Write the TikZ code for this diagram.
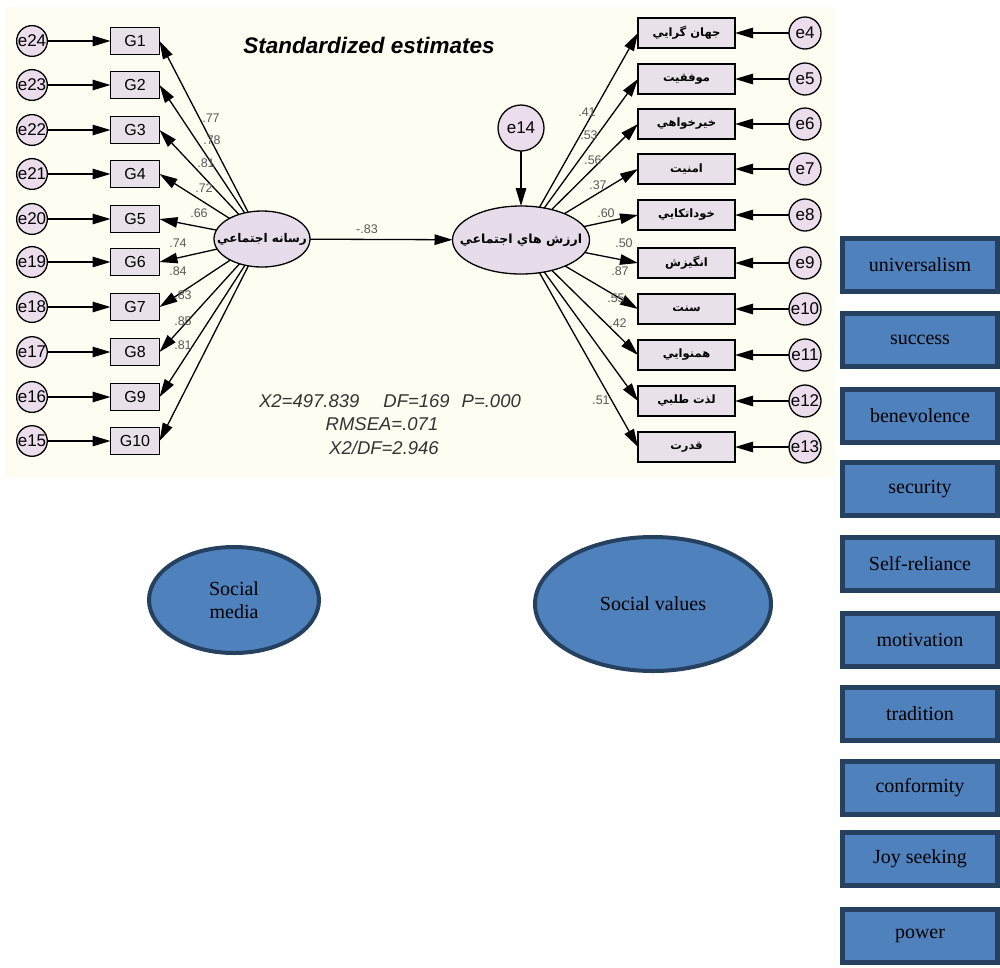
\documentclass[tikz,border=0pt]{standalone}
\usepackage{fontspec}
\setmainfont{Liberation Serif}
\newfontfamily\amossans{Liberation Sans}
\newfontfamily\arabicfont[Script=Arabic]{DejaVu Sans}
\TeXXeTstate=1
\usetikzlibrary{arrows.meta,shapes.geometric}

\definecolor{bgcream}{HTML}{FDFDF1}
\definecolor{boxfill}{HTML}{E9E1EA}
\definecolor{errfill}{HTML}{EBDDEC}
\definecolor{latfill}{HTML}{E7DDEA}
\definecolor{coefgray}{HTML}{5A5A5A}
\definecolor{bluefill}{HTML}{4F81BD}
\definecolor{bluedark}{HTML}{26405F}

\newcommand{\fa}[1]{\arabicfont\beginR #1\endR}

\begin{document}
\begin{tikzpicture}[x=1pt,y=-1pt,
  every node/.style={inner sep=0pt,outer sep=0pt},
  obs/.style={draw,line width=1.3pt,fill=boxfill,minimum width=49pt,minimum height=27pt,
    font=\amossans\fontsize{16}{16}\selectfont},
  obsr/.style={obs,minimum width=97pt,minimum height=30pt,
    font=\arabicfont\bfseries\fontsize{11.5}{11.5}\selectfont},
  errl/.style={circle,draw,line width=1.3pt,fill=errfill,minimum size=29pt,
    font=\amossans\fontsize{17}{17}\selectfont},
  errr/.style={errl,minimum size=32pt},
  lat/.style={ellipse,draw,line width=1.3pt,fill=latfill},
  latname/.style={font=\arabicfont\bfseries\fontsize{#1}{#1}\selectfont},
  loadarrow/.style={line width=1.3pt,-{Triangle[length=18pt,width=10.5pt]}},
  coef/.style={text=coefgray,font=\amossans\fontsize{12.5}{12.5}\selectfont},
  fitstat/.style={text=black!80,font=\amossans\itshape\fontsize{18.5}{18.5}\selectfont},
  valuebox/.style={draw=bluedark,line width=5pt,fill=bluefill,minimum width=155pt,
    minimum height=53pt,font=\fontsize{20}{20}\selectfont},
  conceptell/.style={ellipse,draw=bluedark,line width=4pt,fill=bluefill,
    align=center,font=\fontsize{20}{23}\selectfont}]

\useasboundingbox (0,0) rectangle (1000,967);
\fill[bgcream] (5,7) rectangle (836,477);

% title
\node[font=\amossans\bfseries\itshape\fontsize{22.5}{22.5}\selectfont] (title) at (369,45) {Standardized estimates};

% latent variables (names set on top so they may run past the outline)
\node[lat,minimum width=96pt,minimum height=56pt] (llat) at (262,239) {};
\node[latname=12] (llatname) at (llat.center) {\fa{رسانه اجتماعي}};
\node[lat,minimum width=137pt,minimum height=68pt] (rlat) at (521,240) {};
\node[latname=12.5] (rlatname) at (rlat.center) {\fa{ارزش هاي اجتماعي}};
\node[errl,minimum size=46pt] (e14) at (521,128) {e14};
\draw[loadarrow] (e14) -- (rlat);

% structural path
\draw[loadarrow] (llat) -- (rlat) node[coef,pos=0.4,above=6pt] (b83) {-.83};

% social media indicators G1..G10
\foreach \i/\y/\e in {1/41/24,2/85/23,3/130/22,4/174/21,5/219/20,6/262/19,7/307/18,8/352/17,9/397/16,10/441/15}{
  \node[obs] (g\i) at (135,\y) {G\i};
  \node[errl] (el\i) at (32,\y) {e\e};
  \draw[loadarrow] (el\i) -- (g\i);
  \draw[loadarrow] (llat) -- (g\i.east);
}

% social values indicators
\foreach \i/\y/\t/\e in {1/33/جهان گرايي/4,2/79/موفقيت/5,3/124/خيرخواهي/6,4/169/امنيت/7,
    5/215/خوداتكايي/8,6/263/انگيزش/9,7/309/سنت/10,8/355/همنوايي/11,9/401/لذت طلبي/12,10/447/قدرت/13}{
  \node[obsr] (v\i) at (686.5,\y) {\fa{\t}};
  \node[errr] (er\i) at (805,\y) {e\e};
  \draw[loadarrow] (er\i) -- (v\i);
  \draw[loadarrow] (rlat) -- (v\i.west);
}

% standardized loadings, left
\foreach \n/\x/\y/\v in {a/211/118/.77,b/212/140/.78,c/206/163/.81,d/204/188/.72,e/199/213/.66,
    f/178/243/.74,g/178/271/.84,h/183/295/.83,i/183/321/.85,j/183/345/.81}{
  \node[coef] (l\n) at (\x,\y) {\v};
}
% standardized loadings, right
\foreach \n/\x/\y/\v in {a/587/112/.41,b/589/135/.53,c/593/160/.56,d/598/185/.37,e/606/213/.60,
    f/624/243/.50,g/620/271/.87,h/616/298/.55,i/618/323/.42,j/601/400/.51}{
  \node[coef] (r\n) at (\x,\y) {\v};
}

% fit statistics
\node[fitstat] (fit1) at (390,401) {X2=497.839\hspace{24pt}DF=169\hspace{12pt}P=.000};
\node[fitstat] (fit2) at (382,424) {RMSEA=.071};
\node[fitstat] (fit3) at (384,448) {X2/DF=2.946};

% conceptual model
\node[conceptell,minimum width=170pt,minimum height=106pt] (sm) at (234,600) {Social\\media};
\node[conceptell,minimum width=236pt,minimum height=134pt] (sv) at (653,604) {Social values};

\foreach \n/\y/\t in {1/265/universalism,2/340/success,3/416/benevolence,4/489/security,
    5/564/Self-reliance,6/640/motivation,7/714/tradition,8/788/conformity,9/859/Joy seeking,10/936/power}{
  \node[valuebox] (b\n) at (920,\y) {\t};
}
\end{tikzpicture}
\end{document}
